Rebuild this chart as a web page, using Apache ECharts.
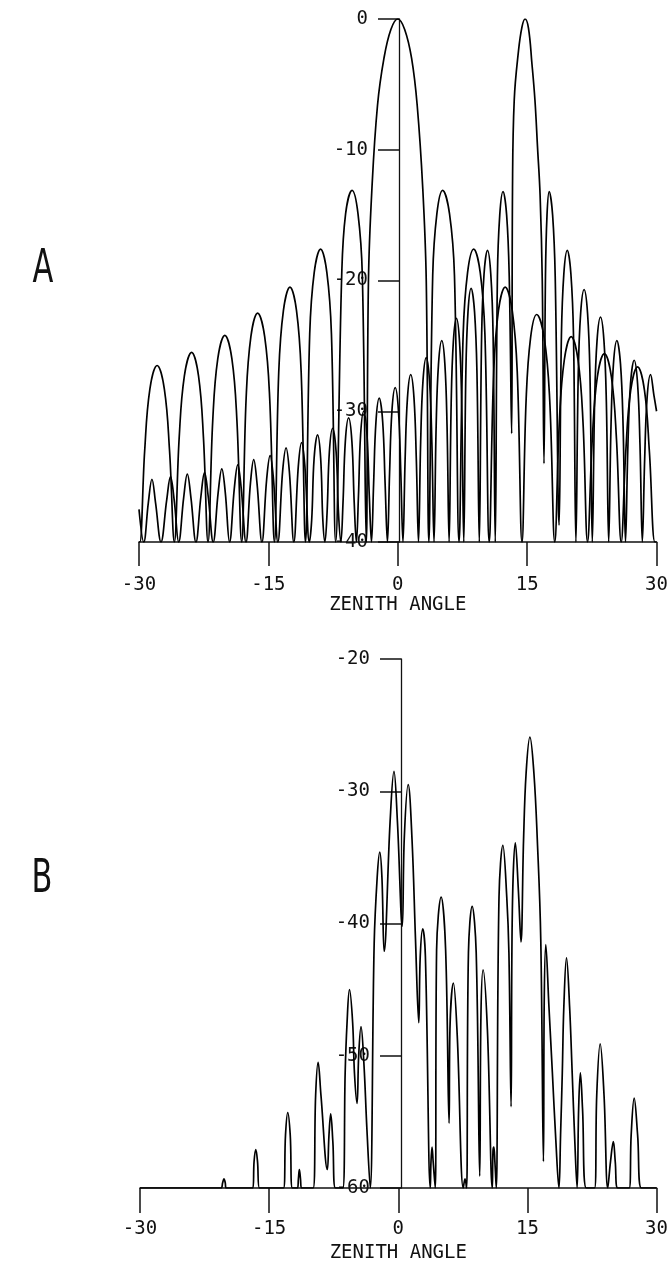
<!DOCTYPE html>
<html>
<head>
<meta charset="utf-8">
<script src="https://cdn.jsdelivr.net/npm/echarts/dist/echarts.min.js"></script>
<style>
  html, body { margin: 0; padding: 0; background: #ffffff; }
  #chart { width: 671px; height: 1264px; }
</style>
</head>
<body>
<div id="chart"></div>
<script>
// Tick values and labels
const xTicks = [-30, -15, 0, 15, 30];
const yRangeA = [-40, 0];
const yRangeB = [-60, -20];
const panelLabels = ['A', 'B'];
const axisTitle = 'ZENITH ANGLE';

// Panel A: broad beam steered to 0 deg, [angle, dB]
const beamBroad = [
  [-30,-40],[-29.9,-40],
  [-29.34,-33.0],[-28.74,-28.3],[-27.9,-26.5],[-27.06,-28.3],[-26.46,-33.0],[-25.9,-40],
  [-25.34,-32.0],[-24.74,-27.3],[-23.9,-25.5],[-23.1,-27.3],[-22.53,-32.0],[-22.0,-40],
  [-21.45,-30.7],[-20.87,-26.0],[-20.05,-24.2],[-19.23,-26.0],[-18.65,-30.7],[-18.1,-40],
  [-17.58,-29.0],[-17.03,-24.3],[-16.25,-22.5],[-15.43,-24.3],[-14.85,-29.0],[-14.3,-40],
  [-13.8,-27.0],[-13.26,-22.3],[-12.5,-20.5],[-11.74,-22.3],[-11.2,-27.0],[-10.7,-40],
  [-10.21,-24.1],[-9.69,-19.4],[-8.95,-17.6],[-8.22,-19.4],[-7.69,-24.1],[-7.2,-40],
  [-6.5,-19.6],[-6.05,-14.9],[-5.3,-13.1],[-4.61,-14.9],[-4.11,-19.6],[-3.65,-40],
  [-3.4,-20],[-3.0,-13],[-2.35,-6.6],[-1.6,-3],[-0.8,-0.8],[0,0],
  [0.8,-0.8],[1.6,-3],[2.25,-6.6],[2.9,-13],[3.3,-20],[3.6,-40],
  [4.05,-19.6],[4.53,-14.9],[5.2,-13.1],[6.0,-14.9],[6.57,-19.6],[7.1,-40],
  [7.58,-24.1],[8.09,-19.4],[8.8,-17.6],[9.56,-19.4],[10.1,-24.1],[10.6,-40],
  [11.12,-27.0],[11.67,-22.3],[12.45,-20.5],[13.27,-22.3],[13.85,-27.0],[14.4,-40],
  [14.88,-29.1],[15.39,-24.4],[16.1,-22.6],[16.98,-24.4],[17.61,-29.1],[18.2,-40],
  [18.73,-30.8],[19.3,-26.1],[20.1,-24.3],[20.9,-26.1],[21.47,-30.8],[22.0,-40],
  [22.55,-32.1],[23.13,-27.4],[23.95,-25.6],[24.77,-27.4],[25.35,-32.1],[25.9,-40],
  [26.43,-33.1],[27.0,-28.4],[27.8,-26.6],[28.6,-28.4],[29.17,-33.1],[29.8,-40],[30,-40]
];

// Panel A: narrow beam steered to about 15 deg, [angle, dB]
const beamSteered = [
  [-30,-37.5],[-29.45,-40],
  [-28.92,-37.0],[-28.5,-35.2],[-28.08,-37.0],[-27.45,-40],
  [-26.79,-36.8],[-26.35,-35.0],[-25.92,-36.8],[-25.4,-40],
  [-24.82,-36.6],[-24.4,-34.8],[-23.98,-36.6],[-23.4,-40],
  [-22.82,-36.5],[-22.4,-34.7],[-21.98,-36.5],[-21.4,-40],
  [-20.82,-36.2],[-20.4,-34.4],[-20.0,-36.2],[-19.5,-40],
  [-18.95,-35.9],[-18.55,-34.1],[-18.15,-35.9],[-17.6,-40],
  [-17.08,-35.5],[-16.7,-33.7],[-16.32,-35.5],[-15.75,-40],
  [-15.2,-35.2],[-14.8,-33.4],[-14.41,-35.2],[-13.9,-40],
  [-13.35,-34.6],[-12.95,-32.8],[-12.57,-34.6],[-12.05,-40],
  [-11.53,-34.2],[-11.15,-32.4],[-10.77,-34.2],[-10.25,-40],
  [-9.98,-38.3],[-9.7,-33.6],[-9.3,-31.8],[-8.94,-33.6],[-8.69,-38.3],[-8.45,-40],
  [-8.2,-37.8],[-7.93,-33.1],[-7.55,-31.3],[-7.15,-33.1],[-6.87,-37.8],[-6.6,-40],
  [-6.35,-37.0],[-6.08,-32.3],[-5.7,-30.5],[-5.32,-32.3],[-5.05,-37.0],[-4.8,-40],
  [-4.56,-36.5],[-4.31,-31.8],[-3.95,-30.0],[-3.57,-31.8],[-3.3,-36.5],[-3.05,-40],
  [-2.8,-35.5],[-2.53,-30.8],[-2.15,-29.0],[-1.75,-30.8],[-1.47,-35.5],[-1.2,-40],
  [-0.95,-34.7],[-0.68,-30.0],[-0.3,-28.2],[0.08,-30.0],[0.35,-34.7],[0.6,-40],
  [0.85,-33.7],[1.12,-29.0],[1.5,-27.2],[1.88,-29.0],[2.15,-33.7],[2.4,-40],
  [2.65,-32.4],[2.92,-27.7],[3.3,-25.9],[3.68,-27.7],[3.95,-32.4],[4.2,-40],
  [4.45,-31.1],[4.72,-26.4],[5.1,-24.6],[5.46,-26.4],[5.71,-31.1],[5.95,-40],
  [6.19,-29.4],[6.44,-24.7],[6.8,-22.9],[7.16,-24.7],[7.41,-29.4],[7.65,-40],
  [7.89,-27.1],[8.14,-22.4],[8.5,-20.6],[8.9,-22.4],[9.18,-27.1],[9.45,-40],
  [9.72,-24.2],[10.0,-19.5],[10.4,-17.7],[10.78,-19.5],[11.05,-24.2],[11.3,-40],
  [11.55,-19.7],[11.82,-15.0],[12.2,-13.2],[12.62,-15.0],[12.92,-19.7],[13.2,-31.7],
  [13.3,-13],[13.5,-6.2],[14.0,-2.4],[14.4,-0.6],[14.75,0],[15.15,-0.7],
  [15.55,-3.4],[15.9,-6.2],[16.2,-9.8],[16.5,-13.5],[16.75,-20],[16.95,-34],
  [17.12,-19.7],[17.3,-15.0],[17.55,-13.2],[17.95,-15.0],[18.25,-19.7],[18.7,-38.7],
  [18.97,-24.2],[19.25,-19.5],[19.65,-17.7],[20.07,-19.5],[20.37,-24.2],[20.65,-40],
  [20.92,-27.2],[21.2,-22.5],[21.6,-20.7],[22.0,-22.5],[22.28,-27.2],[22.55,-40],
  [22.82,-29.3],[23.1,-24.6],[23.5,-22.8],[23.9,-24.6],[24.18,-29.3],[24.45,-40],
  [24.72,-31.1],[25.0,-26.4],[25.4,-24.6],[25.82,-26.4],[26.12,-31.1],[26.4,-40],
  [26.68,-32.6],[26.98,-27.9],[27.4,-26.1],[27.8,-27.9],[28.08,-32.6],[28.35,-40],
  [28.62,-33.7],[28.9,-29.0],[29.3,-27.2],[29.7,-28.8],[30,-30]
];

// Panel B: combined pattern, [angle, dB]
const patternB = [
  [-30,-60],[-20.6,-60],[-20.4,-59.6],[-20.25,-59.3],[-20.1,-59.6],[-20.0,-60],
  [-16.9,-60],[-16.75,-58],[-16.55,-57.1],[-16.35,-58],[-16.13,-60],
  [-13.33,-60],[-13.1,-56],[-12.84,-54.3],[-12.55,-56],[-12.3,-60],
  [-11.72,-60],[-11.6,-59.3],[-11.49,-58.6],[-11.36,-59.3],[-11.23,-60],
  [-9.89,-60],[-9.6,-53],[-9.31,-50.5],[-8.98,-53],[-8.24,-58.6],
  [-8.05,-56],[-7.85,-54.4],[-7.6,-56.5],[-7.3,-60],
  [-6.44,-60],[-6.17,-51.3],[-5.95,-47.5],[-5.67,-45],[-5.3,-47.5],[-5.09,-51.3],[-4.79,-53.6],
  [-4.6,-50],[-4.33,-47.8],[-4.0,-50.5],[-3.64,-55.6],[-3.26,-60],
  [-2.8,-41.5],[-2.45,-36.5],[-2.15,-34.6],[-1.9,-36.5],[-1.64,-42.1],
  [-0.95,-32.3],[-0.5,-28.5],[-0.1,-32.3],[0.46,-40.2],
  [0.7,-33.5],[1.15,-29.5],[1.6,-33.7],[2.0,-41.2],[2.38,-47.5],
  [2.55,-42.5],[2.84,-40.4],[3.15,-42.5],[3.72,-60],
  [3.8,-58],[3.92,-56.9],[4.05,-58],[4.29,-60],
  [4.45,-42],[4.98,-38],[5.5,-42],[5.9,-55.1],
  [6.0,-48],[6.4,-44.5],[6.85,-48.5],[7.55,-60],
  [7.75,-59.3],[7.93,-60],
  [8.15,-42.2],[8.58,-38.7],[9.05,-42.2],[9.46,-59.1],
  [9.6,-47],[9.85,-43.5],[10.35,-48],[10.92,-60],
  [11.0,-57.2],[11.1,-56.9],[11.22,-58],[11.38,-60],
  [11.7,-38],[12.15,-34.1],[12.6,-38],[12.85,-42.2],[13.1,-53.85],
  [13.25,-39],[13.6,-33.9],[13.95,-37.5],[14.25,-41.4],
  [14.55,-33.7],[14.85,-28.6],[15.29,-25.9],[15.75,-28.6],[16.15,-33.7],[16.55,-41.2],[16.86,-58],
  [16.95,-46],[17.13,-41.6],[17.5,-46.3],[17.9,-51.3],[18.3,-56.4],[18.66,-60],
  [18.85,-56],[19.05,-51.3],[19.23,-46.3],[19.54,-42.6],[19.9,-46.3],[20.2,-51.3],[20.5,-56.4],[20.77,-60],
  [20.95,-54],[21.15,-51.3],[21.4,-54],[21.84,-60],
  [22.8,-60],[23.05,-53],[23.45,-49.1],[23.9,-53],[24.33,-60],
  [24.65,-58],[24.98,-56.5],[25.2,-58],[25.48,-60],
  [26.82,-60],[27.05,-56],[27.4,-53.2],[27.8,-56],[28.24,-60],[30,-60]
];

const ink = '#111111';
const tickFont = '"DejaVu Sans Mono", "Liberation Mono", monospace';
const gridA = { left: 139, top: 19, width: 520, height: 523 };
const gridB = { left: 140, top: 659, width: 522, height: 529 };

function xAxisFor(gridIndex, labelMargin, nameGap, tickLen) {
  return {
    gridIndex: gridIndex,
    type: 'value',
    min: xTicks[0],
    max: xTicks[xTicks.length - 1],
    interval: xTicks[1] - xTicks[0],
    axisLine: { show: true, onZero: false, lineStyle: { color: ink, width: 1.5 } },
    axisTick: { show: true, inside: false, length: tickLen, lineStyle: { color: ink, width: 1.5 } },
    axisLabel: { margin: labelMargin, fontFamily: tickFont, fontSize: 19, color: ink },
    splitLine: { show: false },
    name: axisTitle,
    nameLocation: 'middle',
    nameGap: nameGap,
    nameTextStyle: { fontFamily: tickFont, fontSize: 19, color: ink }
  };
}

// The value axis sits on the zero angle line, so shift it inwards by half the grid width
function yAxisFor(gridIndex, range, grid) {
  return {
    gridIndex: gridIndex,
    type: 'value',
    position: 'left',
    offset: -grid.width / 2,
    min: range[0],
    max: range[1],
    interval: 10,
    axisLine: { show: true, onZero: false, lineStyle: { color: ink, width: 1.3 } },
    axisTick: { show: true, inside: false, length: 21, lineStyle: { color: ink, width: 1.5 } },
    axisLabel: { margin: 31, fontFamily: tickFont, fontSize: 19, color: ink },
    splitLine: { show: false }
  };
}

function curve(data, gridIndex) {
  return {
    type: 'line',
    xAxisIndex: gridIndex,
    yAxisIndex: gridIndex,
    data: data,
    showSymbol: false,
    smooth: 0.4,
    clip: true,
    silent: true,
    lineStyle: { color: '#000000', width: 1.7 }
  };
}

const labelFont = '47px "Liberation Sans Narrow", "DejaVu Sans Condensed", sans-serif';

const chart = echarts.init(document.getElementById('chart'), null, { renderer: 'canvas' });
chart.setOption({
  animation: false,
  backgroundColor: '#ffffff',
  grid: [gridA, gridB],
  xAxis: [xAxisFor(0, 34, 52, 24), xAxisFor(1, 32, 56, 25)],
  yAxis: [yAxisFor(0, yRangeA, gridA), yAxisFor(1, yRangeB, gridB)],
  graphic: [
    { type: 'text', x: 43, y: 270, scaleX: 0.72,
      style: { text: panelLabels[0], align: 'center', verticalAlign: 'middle', font: labelFont, fill: ink } },
    { type: 'text', x: 42, y: 880, scaleX: 0.72,
      style: { text: panelLabels[1], align: 'center', verticalAlign: 'middle', font: labelFont, fill: ink } }
  ],
  series: [
    curve(beamBroad, 0),
    curve(beamSteered, 0),
    curve(patternB, 1)
  ]
});
</script>
</body>
</html>
